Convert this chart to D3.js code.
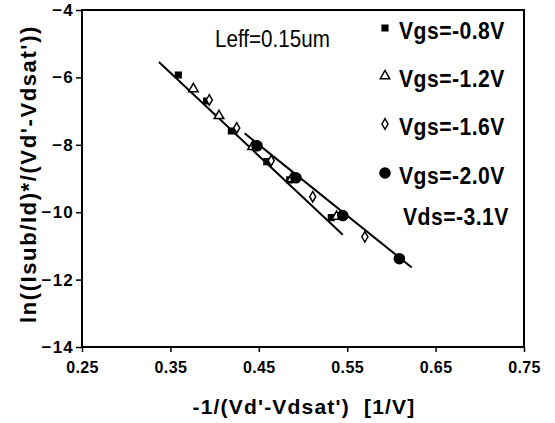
<!DOCTYPE html>
<html>
<head>
<meta charset="utf-8">
<script src="https://cdn.jsdelivr.net/npm/d3@7"></script>
<style>
  html, body { margin: 0; padding: 0; background: #fff; }
  svg { display: block; }
</style>
</head>
<body>
<svg id="chart" width="555" height="423"></svg>
<script>
// ---- data ----
const seriesNames = ["Vgs=-0.8V", "Vgs=-1.2V", "Vgs=-1.6V", "Vgs=-2.0V"];
const vgs08X = [0.359, 0.391, 0.419, 0.459, 0.485, 0.532];
const vgs08Y = [-5.93, -6.70, -7.59, -8.50, -9.04, -10.16];
const vgs12X = [0.376, 0.405, 0.443, 0.487, 0.538];
const vgs12Y = [-6.34, -7.14, -8.06, -9.01, -10.13];
const vgs16X = [0.394, 0.425, 0.464, 0.511, 0.570];
const vgs16Y = [-6.67, -7.50, -8.47, -9.54, -10.73];
const vgs20X = [0.448, 0.492, 0.545, 0.609];
const vgs20Y = [-8.03, -8.98, -10.10, -11.38];
// fitted lines (end points)
const fitAX = [0.337, 0.545];
const fitAY = [-5.54, -10.67];
const fitBX = [0.434, 0.623];
const fitBY = [-7.66, -11.64];
const xTicks = [0.25, 0.35, 0.45, 0.55, 0.65, 0.75];
const yTicks = [-4, -6, -8, -10, -12, -14];
const annotation = "Leff=0.15um";
const vdsLabel = "Vds=-3.1V";
const xTitle = "-1/(Vd'-Vdsat')  [1/V]";
const yTitle = "ln((Isub/Id)*/(Vd'-Vdsat'))";

// ---- layout ----
const svg = d3.select("#chart");
const L = 82, R = 524, T = 10, B = 347;
const x = d3.scaleLinear().domain([0.25, 0.75]).range([L, R]);
const y = d3.scaleLinear().domain([-14, -4]).range([B, T]);
const font = "'Liberation Sans', Arial, sans-serif";

// axes
const xAxis = svg.append("g").attr("transform", `translate(0,${B})`)
  .call(d3.axisBottom(x).tickValues(xTicks).tickFormat(d3.format(".2f")).tickSize(5).tickPadding(10));
xAxis.select(".domain").remove();
xAxis.selectAll("line").attr("stroke", "#000").attr("stroke-width", 1.5);
xAxis.selectAll("text").attr("font-family", font).attr("font-weight", "bold")
  .attr("font-size", 16).attr("letter-spacing", 0.4).attr("fill", "#000");

const yAxis = svg.append("g").attr("transform", `translate(${L},0)`)
  .call(d3.axisLeft(y).tickValues(yTicks).tickFormat(d => String(d).replace("-", "\u2212")).tickSize(6).tickPadding(2));
yAxis.select(".domain").remove();
yAxis.selectAll("line").attr("stroke", "#000").attr("stroke-width", 1.5);
yAxis.selectAll("text").attr("font-family", font).attr("font-weight", "bold")
  .attr("font-size", 17).attr("letter-spacing", 1.2).attr("fill", "#000");

// frame
svg.append("rect").attr("x", L).attr("y", T).attr("width", R - L).attr("height", B - T)
  .attr("fill", "none").attr("stroke", "#000").attr("stroke-width", 2);

// fitted lines
const line = d3.line().x(d => x(d[0])).y(d => y(d[1]));
[[fitAX, fitAY], [fitBX, fitBY]].forEach(([xs, ys]) => {
  svg.append("path").datum(xs.map((v, i) => [v, ys[i]]))
    .attr("d", line).attr("fill", "none").attr("stroke", "#000").attr("stroke-width", 2);
});

// markers
const sym = [
  { type: d3.symbolSquare, size: 32, fill: "#000" },
  { type: d3.symbolTriangle, size: 40, fill: "#fff" },
  { type: d3.symbolDiamond, size: 32, fill: "#fff" },
  { type: d3.symbolCircle, size: 80, fill: "#000" }
];
const seriesData = [[vgs08X, vgs08Y], [vgs12X, vgs12Y], [vgs16X, vgs16Y], [vgs20X, vgs20Y]];
[0, 1, 2, 3].forEach(si => {
  const [xs, ys] = seriesData[si];
  const s = sym[si];
  svg.append("g").selectAll("path").data(xs.map((v, i) => [v, ys[i]])).join("path")
    .attr("transform", d => `translate(${x(d[0])},${y(d[1])})`)
    .attr("d", d3.symbol().type(s.type).size(s.size))
    .attr("fill", s.fill).attr("stroke", "#000").attr("stroke-width", 1.5);
});

// annotation (condensed look)
svg.append("text").attr("transform", "translate(215,47) scale(0.86,1)").text(annotation)
  .attr("font-family", font).attr("font-size", 24).attr("fill", "#000");

// legend
const legY = [31, 79, 127, 176];
seriesNames.forEach((name, i) => {
  const s = sym[i];
  svg.append("path").attr("transform", `translate(385,${legY[i] - 3})`)
    .attr("d", d3.symbol().type(s.type).size(i === 3 ? 80 : s.size))
    .attr("fill", s.fill).attr("stroke", "#000").attr("stroke-width", 1.5);
  svg.append("text").attr("transform", `translate(399,${legY[i] + 8}) scale(0.92,1)`).text(name)
    .attr("font-family", font).attr("font-weight", "bold").attr("font-size", 23)
    .attr("letter-spacing", 0.5).attr("fill", "#000");
});
svg.append("text").attr("transform", "translate(403,225) scale(0.92,1)").text(vdsLabel)
  .attr("font-family", font).attr("font-weight", "bold").attr("font-size", 23)
  .attr("letter-spacing", 0.5).attr("fill", "#000");

// axis titles
svg.append("text").attr("x", (L + R) / 2 + 1).attr("y", 414).attr("text-anchor", "middle")
  .text(xTitle).attr("font-family", font).attr("font-weight", "bold").attr("font-size", 21)
  .attr("letter-spacing", 1.2).attr("fill", "#000").style("white-space", "pre");
svg.append("text").attr("transform", "translate(36,174) rotate(-90)").attr("text-anchor", "middle")
  .text(yTitle).attr("font-family", font).attr("font-weight", "bold").attr("font-size", 22)
  .attr("letter-spacing", 1.6).attr("fill", "#000");
</script>
</body>
</html>
